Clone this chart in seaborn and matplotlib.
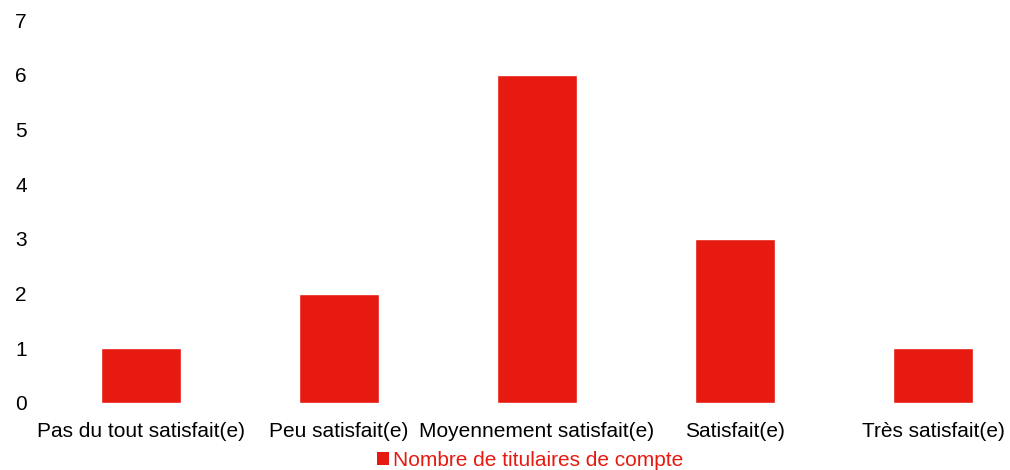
import pandas as pd
import seaborn as sns
import matplotlib.pyplot as plt
from matplotlib.patches import Patch

categories = ["Pas du tout satisfait(e)", "Peu satisfait(e)", "Moyennement satisfait(e)",
              "Satisfait(e)", "Très satisfait(e)"]
values = [1, 2, 6, 3, 1]
series_name = "Nombre de titulaires de compte"

df = pd.DataFrame({"cat": categories, "val": values})

sns.set_theme(style='white')
plt.rcParams['font.family'] = ['Liberation Sans', 'DejaVu Sans']

red = '#E61A10'
fig = plt.figure(figsize=(10.1, 4.7), dpi=100)
ax = fig.add_axes([42 / 1010, 67 / 470, 968 / 1010, 383 / 470])
sns.barplot(data=df, x='cat', y='val', color=red, width=0.4, saturation=1, ax=ax)

ax.set_xlim(-0.5, -0.5 + 968 / 198)
ax.set_ylim(0, 7)
ax.set_yticks(range(0, 8))
ax.set_xlabel('')
ax.set_ylabel('')
sns.despine(ax=ax, left=True, bottom=True)
ax.tick_params(axis='y', length=0, pad=11, labelsize=15, labelcolor='#000000')
ax.tick_params(axis='x', length=0, pad=14, labelsize=15, labelcolor='#000000')

handle = Patch(facecolor=red, edgecolor='none', label=series_name)
leg = fig.legend(handles=[handle], loc='center', bbox_to_anchor=(530 / 1010, 1 - 460 / 470),
                 frameon=False, fontsize=15, handlelength=0.6, handleheight=0.6,
                 handletextpad=0.2, borderpad=0)
for t in leg.get_texts():
    t.set_color(red)

fig.savefig('out.png', dpi=100)
